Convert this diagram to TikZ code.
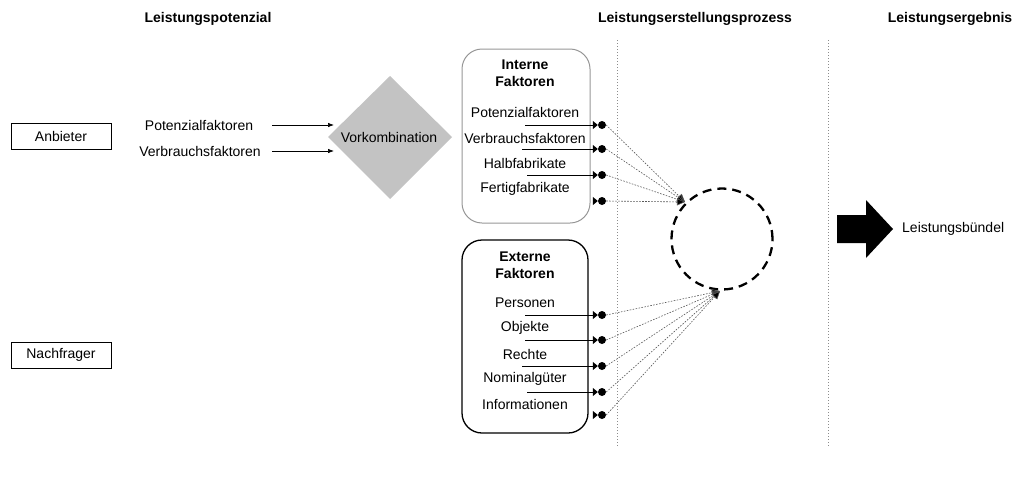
\documentclass[tikz,border=0pt]{standalone}
\usepackage{fontspec}
\setmainfont{Liberation Sans}
\usetikzlibrary{arrows.meta}

\definecolor{boxgray}{RGB}{150,150,150}
\definecolor{dotgray}{RGB}{90,90,90}
\definecolor{diagray}{RGB}{195,195,195}

\tikzset{
  txt/.style={inner sep=0pt, font=\fontsize{14}{16}\selectfont},
  title/.style={inner sep=0pt, font=\fontsize{14}{16}\selectfont\bfseries},
  rolebox/.style={draw, line width=0.9pt, fill=white, minimum width=100pt, minimum height=26pt, inner sep=0pt, font=\fontsize{14}{16}\selectfont},
  dotnode/.style={circle, fill=black, inner sep=0pt, minimum size=8pt},
  itemline/.style={line width=0.8pt, -{Triangle[length=5pt,width=8pt]}},
  feedline/.style={line width=0.6pt, draw=dotgray, dash pattern=on 1.6pt off 1.4pt, -{Triangle[length=8pt,width=7pt,fill=black]}},
  inline/.style={line width=0.7pt, -{Latex[length=6pt,width=4.5pt]}},
  separator/.style={draw=black!45, line width=0.6pt, dash pattern=on 1pt off 2pt},
}

\begin{document}
\begin{tikzpicture}[x=1pt,y=-1pt]
\useasboundingbox (0,0) rectangle (1017,477);

% column headings
\node[title] (h1) at (208,19) {Leistungspotenzial};
\node[title] (h2) at (695,19) {Leistungserstellungsprozess};
\node[title] (h3) at (950,19) {Leistungsergebnis};

% separators between the phases
\coordinate (s1a) at (617,40); \coordinate (s1b) at (617,447);
\coordinate (s2a) at (828,40); \coordinate (s2b) at (828,447);
\draw[separator] (s1a) -- (s1b);
\draw[separator] (s2a) -- (s2b);

% market participants
\node[rolebox] (anb) at (61,136) {Anbieter};
\node[rolebox] (nach) at (61,355) {Nachfrager};

% pre-combination of the supplier's factors
\fill[diagray] (328,137) -- (390,76) -- (452,137) -- (390,199) -- cycle;
\node[txt] (vk) at (389,137) {Vorkombination};

\node[txt] (pf) at (199,125) {Potenzialfaktoren};
\node[txt] (vf) at (200,151) {Verbrauchsfaktoren};
\coordinate (pfa) at (272,125); \coordinate (pfb) at (334,125);
\coordinate (vfa) at (272,151); \coordinate (vfb) at (334,151);
\draw[inline] (pfa) -- (pfb);
\draw[inline] (vfa) -- (vfb);

% internal factors
\draw[boxgray, line width=1pt, rounded corners=20pt] (462,49) rectangle (590,223);
\node[title, align=center] (int) at (525,73) {Interne\\[1pt]Faktoren};
\node[txt] (i1) at (525,112) {Potenzialfaktoren};
\node[txt] (i2) at (525,138) {Verbrauchsfaktoren};
\node[txt] (i3) at (525,163) {Halbfabrikate};
\node[txt] (i4) at (525,189) {Fertigfabrikate};

\node[dotnode] (di1) at (602,125) {};
\node[dotnode] (di2) at (602,149) {};
\node[dotnode] (di3) at (602,175) {};
\node[dotnode] (di4) at (602,201) {};
\coordinate (li1) at (525,125);
\coordinate (li2) at (522,149);
\coordinate (li3) at (527,175);
\coordinate (li4) at (593,201);
\draw[itemline] (li1) -- (di1.west);
\draw[itemline] (li2) -- (di2.west);
\draw[itemline] (li3) -- (di3.west);
\draw[itemline] (li4) -- (di4.west);

% external factors
\draw[black, line width=1.3pt, rounded corners=20pt] (462,240) rectangle (588,433);
\node[title, align=center] (ext) at (525,265) {Externe\\[1pt]Faktoren};
\node[txt] (e1) at (525,303) {Personen};
\node[txt] (e2) at (525,328) {Objekte};
\node[txt] (e3) at (525,354) {Rechte};
\node[txt] (e4) at (525,379) {Nominalgüter};
\node[txt] (e5) at (525,404) {Informationen};

\node[dotnode] (de1) at (602,315) {};
\node[dotnode] (de2) at (602,340) {};
\node[dotnode] (de3) at (602,366) {};
\node[dotnode] (de4) at (602,392) {};
\node[dotnode] (de5) at (602,415) {};
\coordinate (le1) at (525,315);
\coordinate (le2) at (525,340);
\coordinate (le3) at (522,366);
\coordinate (le4) at (527,392);
\coordinate (le5) at (593,415);
\draw[itemline] (le1) -- (de1.west);
\draw[itemline] (le2) -- (de2.west);
\draw[itemline] (le3) -- (de3.west);
\draw[itemline] (le4) -- (de4.west);
\draw[itemline] (le5) -- (de5.west);

% service creation process
\node[circle, draw, line width=2.3pt, dash pattern=on 9pt off 6pt, minimum size=101pt, inner sep=0pt] (proc) at (722,239) {};
\coordinate (inA) at (685,202);
\coordinate (exA) at (720,291);

\foreach \d in {di1,di2,di3,di4}
  \draw[feedline] (\d.east) -- (inA);
\foreach \d in {de1,de2,de3,de4,de5}
  \draw[feedline] (\d.east) -- (exA);

% result
\fill[black] (837,215) -- (866,215) -- (866,200) -- (893,229) -- (866,258) -- (866,243) -- (837,243) -- cycle;
\node[txt, anchor=west] (res) at (902,229) {Leistungsbündel};

\end{tikzpicture}
\end{document}
